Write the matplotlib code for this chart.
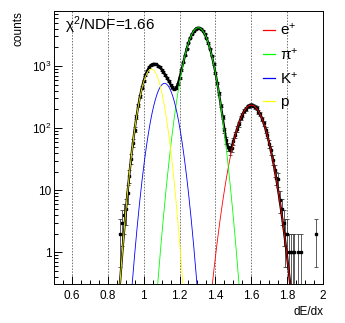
import numpy as np
import matplotlib
matplotlib.use('Agg')
import matplotlib.pyplot as plt
from matplotlib.ticker import MultipleLocator, LogLocator, FuncFormatter, NullFormatter

plt.rcParams['font.family'] = ['Liberation Sans', 'DejaVu Sans']
plt.rcParams['mathtext.fontset'] = 'custom'
plt.rcParams['mathtext.rm'] = 'Liberation Sans'
plt.rcParams['mathtext.it'] = 'Liberation Sans:italic'
plt.rcParams['mathtext.default'] = 'regular'

# --- histogram (bin centres start at 0.87, width 0.01) ---
bin_start = 0.87
bin_width = 0.01
counts = [2, 3, 4, 5, 9, 17, 32, 58, 95, 150,                 # 0.87-0.96
          232, 325, 450, 575, 720, 840, 955, 1030, 1080, 1085,  # 0.97-1.06
          1060, 1010, 960, 875, 810, 720, 640, 575, 500, 455,   # 1.07-1.16
          425, 450, 510, 650, 850, 1140, 1490, 1905, 2380, 2850,  # 1.17-1.26
          3310, 3680, 3980, 4110, 4130, 3960, 3700, 3290, 2860, 2350,  # 1.27-1.36
          1900, 1470, 1080, 785, 535, 365, 230, 150, 92, 64,    # 1.37-1.46
          50, 44, 48, 62, 78, 98, 115, 145, 162, 190,           # 1.47-1.56
          205, 225, 228, 238, 230, 220, 210, 185, 168, 140,     # 1.57-1.66
          120, 94, 77, 56, 44, 31, 21, 16, 15, 7,               # 1.67-1.76
          5, 3, 2, 2, 1, 1, 1, 1]                               # 1.77-1.84
tail_x = [1.86, 1.88, 1.96]
tail_counts = [1, 1, 2]

# --- fitted gaussian components ---
species = ['e$^{+}$', '$\\pi^{+}$', 'K$^{+}$', 'p']
colors = ['#ff0000', '#00ff00', '#0000ff', '#ffff00']
amp = [235, 4140, 526, 895]
mean = [1.600, 1.305, 1.1165, 1.043]
sigma = [0.0596, 0.052, 0.0468, 0.04395]
chi2_ndf = 1.66

x_data = np.concatenate([bin_start + bin_width * np.arange(len(counts)), tail_x])
y_data = np.array(counts + tail_counts, dtype=float)
y_err = np.sqrt(y_data)

xs = np.linspace(0.5, 2.0, 1500)
comps = [a * np.exp(-(xs - m) ** 2 / (2 * s ** 2)) for a, m, s in zip(amp, mean, sigma)]
total = np.sum(comps, axis=0)

fig = plt.figure(figsize=(3.45, 3.23), dpi=100)
ax = fig.add_axes([54 / 345, 1 - 284 / 323, 269 / 345, 273 / 323])

ax.errorbar(x_data, y_data, yerr=y_err, fmt='s', ms=2, color='black',
            ecolor='0.25', elinewidth=0.6, capsize=1.2, capthick=0.6, zorder=3)
ax.plot(xs, total, color='black', lw=1.6, zorder=4)
for c, name, col in zip(comps, species, colors):
    ax.plot(xs, c, color=col, lw=0.6, label=name, zorder=5)

ax.set_yscale('log')
ax.set_xlim(0.5, 2.0)
ax.set_ylim(0.309, 7690)

ax.xaxis.set_major_locator(MultipleLocator(0.2))
ax.xaxis.set_minor_locator(MultipleLocator(0.05))
ax.xaxis.set_major_formatter(FuncFormatter(lambda v, p: f'{v:g}'))

def ylab(v, p):
    e = int(round(np.log10(v)))
    if e == 0:
        return '1'
    if e == 1:
        return '10'
    return '10$^{%d}$' % e

ax.yaxis.set_major_locator(LogLocator(base=10))
ax.yaxis.set_minor_locator(LogLocator(base=10, subs=np.arange(2, 10)))
ax.yaxis.set_major_formatter(FuncFormatter(ylab))
ax.yaxis.set_minor_formatter(NullFormatter())

ax.tick_params(which='both', direction='in', top=False, right=False, labelsize=8.5)
ax.tick_params(which='major', length=5.5, width=0.7)
ax.tick_params(which='minor', length=3, width=0.7)
ax.tick_params(axis='x', pad=4)
ax.tick_params(axis='y', pad=2)
ax.grid(axis='x', which='major', color='0.45', ls=(0, (1.5, 1.5)), lw=0.7)
for sp in ax.spines.values():
    sp.set_linewidth(0.7)

ax.set_xlabel('dE/dx', loc='right', fontsize=8.5, labelpad=3)
ax.set_ylabel('counts', loc='top', fontsize=8.5, labelpad=5)

ax.text(0.041, 0.949, r'$\chi^{2}$/NDF=%.2f' % chi2_ndf, transform=ax.transAxes,
        fontsize=11, va='center', ha='left')
leg = ax.legend(loc='upper left', bbox_to_anchor=(0.777, 0.96), frameon=False, fontsize=11,
                handlelength=0.8, handletextpad=0.3, labelspacing=0.55, borderpad=0,
                borderaxespad=0)
for h in leg.legend_handles:
    h.set_linewidth(0.9)

fig.savefig('out.png', dpi=100)
